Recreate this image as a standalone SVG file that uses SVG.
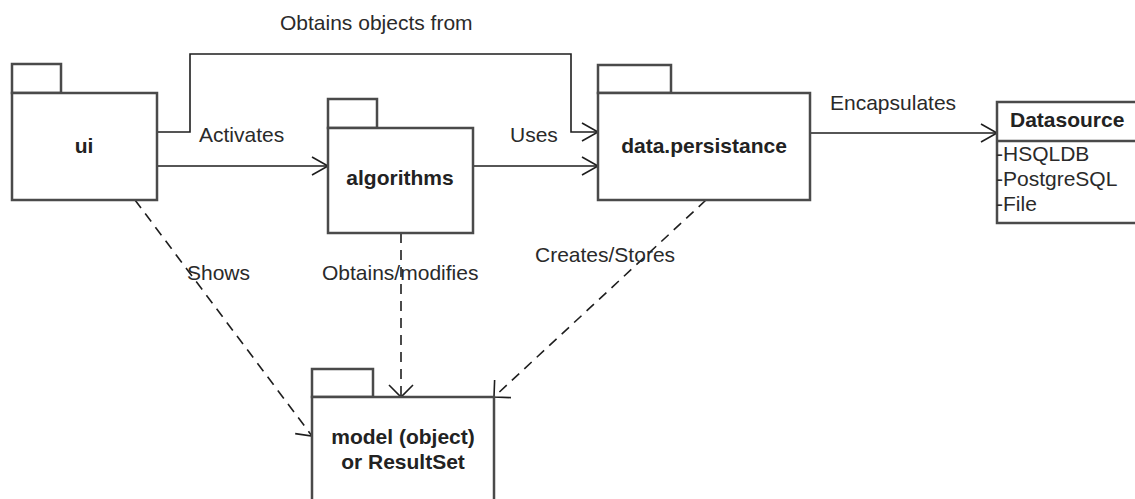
<svg xmlns="http://www.w3.org/2000/svg" width="1135" height="499" viewBox="0 0 1135 499">
<style>
.box{fill:#fff;stroke:#4a4a4a;stroke-width:2.5}
.lbl{font-family:"Liberation Sans",Arial,sans-serif;font-size:21px;fill:#2a2a2a}
.name{font-family:"Liberation Sans",Arial,sans-serif;font-size:21px;font-weight:bold;fill:#222}
.con{fill:none;stroke:#1e1e1e;stroke-width:1.6}
.dash{stroke-dasharray:10 7}
</style>
<defs>
<marker id="arr" markerUnits="userSpaceOnUse" markerWidth="20" markerHeight="20" refX="16" refY="9" orient="auto" overflow="visible">
<path d="M0,0 L16,9 L0,18" fill="none" stroke="#1e1e1e" stroke-width="1.6"/>
</marker>
<marker id="arr45" markerUnits="userSpaceOnUse" markerWidth="20" markerHeight="26" refX="12" refY="12" orient="auto" overflow="visible">
<path d="M0,0 L12,12 L0,24" fill="none" stroke="#1e1e1e" stroke-width="1.6"/>
</marker>
</defs>
<rect width="1135" height="499" fill="#fff"/>

<g id="connectors">
<path class="con" d="M157,132 H190 V54 H571 V132 H598" marker-end="url(#arr)"/>
<path class="con" d="M157,166 H328" marker-end="url(#arr)"/>
<path class="con" d="M473,166 H598" marker-end="url(#arr)"/>
<path class="con" d="M810,133 H997" marker-end="url(#arr)"/>
<path class="con dash" d="M135,200 L312,436" marker-end="url(#arr45)"/>
<path class="con dash" d="M401,233 V397" marker-end="url(#arr45)"/>
<path class="con dash" d="M706,200 L494,397" marker-end="url(#arr45)"/>
<text class="lbl" x="280" y="30">Obtains objects from</text>
<text class="lbl" x="199" y="142">Activates</text>
<text class="lbl" x="510" y="142">Uses</text>
<text class="lbl" x="830" y="110">Encapsulates</text>
<text class="lbl" x="187" y="280">Shows</text>
<text class="lbl" x="322" y="280">Obtains/modifies</text>
<text class="lbl" x="535" y="262">Creates/Stores</text>
</g>

<g id="ui">
<rect class="box" x="12" y="64" width="49" height="29"/>
<rect class="box" x="12" y="93" width="145" height="107"/>
<text class="name" x="84" y="153" text-anchor="middle">ui</text>
</g>

<g id="algorithms">
<rect class="box" x="328" y="99" width="49" height="29"/>
<rect class="box" x="328" y="128" width="145" height="105"/>
<text class="name" x="400" y="185" text-anchor="middle">algorithms</text>
</g>

<g id="data-persistance">
<rect class="box" x="598" y="65" width="73" height="28"/>
<rect class="box" x="598" y="93" width="212" height="107"/>
<text class="name" x="704" y="153" text-anchor="middle">data.persistance</text>
</g>

<g id="datasource">
<rect class="box" x="997" y="102" width="150" height="121"/>
<line x1="997" y1="141" x2="1147" y2="141" stroke="#4a4a4a" stroke-width="2.5"/>
<text class="name" x="1010" y="127">Datasource</text>
<text class="lbl" x="996" y="161">-HSQLDB</text>
<text class="lbl" x="996" y="186">-PostgreSQL</text>
<text class="lbl" x="996" y="211">-File</text>
</g>

<g id="model">
<rect class="box" x="312" y="369" width="61" height="28"/>
<rect class="box" x="312" y="397" width="182" height="115"/>
<text class="name" x="403" y="444" text-anchor="middle">model (object)</text>
<text class="name" x="403" y="469" text-anchor="middle">or ResultSet</text>
</g>
</svg>
